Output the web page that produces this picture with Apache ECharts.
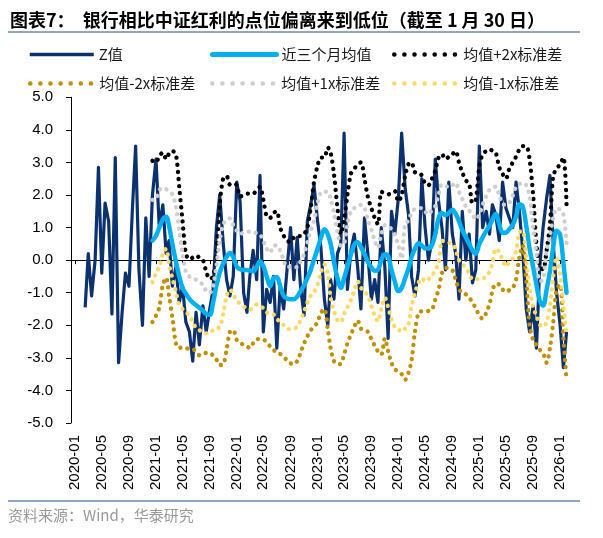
<!DOCTYPE html>
<html><head><meta charset="utf-8">
<script src="https://cdn.jsdelivr.net/npm/echarts@6/dist/echarts.min.js"></script>
<style>html,body{margin:0;padding:0;background:#fff}#c{width:603px;height:538px}</style>
</head><body><div id="c"></div>
<script>
// ---------- data ----------
const tickLabels = ["2020-01","2020-05","2020-09","2021-01","2021-05","2021-09","2022-01","2022-05","2022-09",
  "2023-01","2023-05","2023-09","2024-01","2024-05","2024-09","2025-01","2025-05","2025-09","2026-01"];

// semi-monthly observations (1st / 16th of month), last point = 2026-01-30
const zStart = [2020, 2, 16];
const bandStart = [2020, 12, 16];
const lastDate = [2026, 1, 30];

const zValues = [
  -1.45, 0.2, -1.1, 0.0, 2.85, -0.4, 1.75, 1.2, -1.65, 3.15,
  -3.15, -1.6, -0.4, -0.8, 1.5, 3.5, -0.3, -2.0, 1.3, -0.5,
  2.0, 3.1, 1.0, 1.7, 0.2, 0.6, -0.8, -0.2, -1.3, -0.8,
  -1.9, -2.2, -3.1, -1.6, -2.6, -1.4, -2.2, -1.5, -0.9, 1.0,
  2.0, 0.5, -0.6, -1.1, -0.5, 2.4, 1.8, -1.0, -1.6, -0.5,
  0.3, -0.6, 2.6, -2.2, -0.9, -1.3, -0.5, -2.7, -0.8, -1.5,
  -0.3, 1.0, -0.6, 0.7, -0.8, -1.7, 1.2, 1.7, 2.3, 1.2,
  0.4, -1.2, -2.0, -0.6, -1.2, 0.2, 0.5, 3.9, -0.9, 0.3,
  0.8, -0.2, -1.5, 1.3, 0.2, -1.2, -0.6, -1.3, 1.0, -0.2,
  -2.4, 1.5, 0.8, 1.9, 3.9, 2.2, 1.4, -0.5, -1.1, -0.3,
  2.5, 1.0, 0.0, 0.6, 3.1, 1.8, 1.0, -0.3, 2.4, 0.8,
  0.2, -1.2, 1.5, 0.0, 0.8, -0.7, -0.3, 3.5, 1.0, 1.5,
  0.8, 1.7, 1.4, 0.6, 2.4, 1.6, 1.3, 1.0, 2.4, 1.5,
  0.3, -1.5, -2.2, -1.4, -2.7, -0.2, 1.0, 1.9, 2.6, 0.5,
  -1.0, -2.0, -3.3,
  -2.2
];

const avg3mValues = [
  0.6, 0.75, 1.0, 1.25, 1.33, 1.05, 0.5, -0.05, -0.5, -0.85,
  -1.03, -1.19, -1.3, -1.38, -1.46, -1.55, -1.65, -1.68, -1.3, -0.78,
  -0.38, -0.1, 0.1, 0.22, 0.1, -0.2, -0.28, -0.3, -0.3, -0.32,
  -0.34, -0.2, -0.03, -0.18, -0.5, -0.8, -0.55, -0.52, -0.8, -1.1,
  -1.18, -1.2, -1.2, -1.12, -0.95, -0.78, -0.55, -0.3, 0.02, 0.35,
  0.68, 0.95, 0.8, 0.5, -0.05, -0.55, -0.85, -0.55, -0.2, 0.18,
  0.48, 0.55, 0.4, 0.18, -0.05, -0.22, -0.33, -0.3, 0.0, 0.18,
  0.12, -0.3, -0.65, -0.95, -0.85, -0.55, -0.25, 0.1, 0.35, 0.52,
  0.45, 0.36, 0.36, 0.46, 0.8, 1.3, 1.45, 1.38, 1.45, 1.55,
  1.42, 1.2, 0.92, 0.7, 0.5, 0.3, 0.2, 0.5, 0.7, 0.9,
  1.05, 1.25, 1.42, 1.1, 0.84, 0.84, 0.95, 1.08, 1.35, 1.72,
  1.65, 1.05, 0.35, -0.2, -0.75, -1.25, -1.4, -0.9, -0.35, 0.4,
  0.9, 0.78, -0.1,
  -1.0
];

const plus2Values = [
  3.05, 3.0, 3.2, 3.3, 3.1, 3.27, 3.35, 3.25, 2.25, 1.2,
  0.2, 0.02, 0.08, 0.14, 0.08, 0.0, -0.35, -0.58, -0.5, 0.2,
  1.7, 2.52, 2.58, 2.32, 2.35, 2.3, 1.95, 2.0, 2.04, 2.04,
  2.04, 2.15, 2.25, 1.85, 1.35, 1.3, 1.45, 1.5, 1.0, 0.75,
  0.6, 0.55, 0.7, 0.74, 0.74, 0.8, 1.0, 1.6, 2.4, 2.9,
  3.15, 3.15, 3.46, 3.3, 2.65, 1.6, 0.8, 1.25, 2.0, 2.66,
  2.8, 2.95, 3.0, 2.5, 1.95, 1.6, 1.3, 1.1, 2.1, 2.05,
  2.02, 2.07, 2.12, 1.8, 2.0, 2.6, 2.95, 3.0, 2.7, 2.69,
  2.6, 2.35, 2.3, 2.5, 2.75, 3.15, 3.25, 3.1, 3.17, 3.25,
  3.35, 3.0, 2.7, 2.45, 2.35, 1.75, 1.85, 2.9, 3.25, 3.35,
  3.4, 3.36, 3.3, 2.85, 2.65, 2.5, 2.8, 3.0, 3.18, 3.4,
  3.5, 3.5, 3.1, 2.0, 0.5, -0.2, -0.28, 0.3, 1.1, 2.6,
  2.8, 2.95, 3.15,
  1.7
];

const minus2Values = [
  -1.9, -1.7, -1.45, -0.75, -0.54, -1.1, -1.75, -2.55, -2.7, -2.67,
  -2.7, -2.73, -2.73, -2.82, -2.92, -2.87, -2.85, -2.85, -2.93, -3.05,
  -3.22, -3.2, -2.75, -2.2, -2.15, -2.45, -2.54, -2.6, -2.65, -2.7,
  -2.55, -2.43, -2.42, -2.43, -2.52, -2.65, -2.75, -2.85, -2.88, -2.96,
  -3.08, -3.17, -3.2, -3.1, -2.85, -2.56, -2.34, -2.15, -2.05, -1.9,
  -1.62, -1.5, -2.1, -2.7, -3.1, -3.2, -3.18, -2.9, -2.55, -2.28,
  -2.05, -1.85, -2.1, -2.13, -2.2, -2.42, -2.62, -2.8, -2.9, -2.4,
  -2.8, -3.15, -3.35, -3.42, -3.5, -3.67, -3.45, -3.06, -2.2, -1.62,
  -1.57, -1.57, -1.56, -1.52, -1.21, -0.9, -0.4, -0.24, -0.25, -0.3,
  -0.6, -0.88, -1.02, -1.05, -1.15, -1.3, -1.48, -1.7, -1.8, -1.62,
  -1.35, -0.95, -0.72, -0.75, -0.9, -0.98, -0.92, -0.85, -0.6, 0.1,
  0.45, -0.6, -2.0, -2.45, -2.6, -2.75, -2.85, -3.15, -2.7, -1.9,
  -0.9, -0.75, -2.4,
  -3.68
];

const plus1Values = [
  1.85, 1.88, 2.15, 2.22, 2.18, 2.12, 2.02, 1.65, 0.9, 0.2,
  -0.35, -0.5, -0.55, -0.6, -0.68, -0.75, -0.95, -1.0, -0.8, -0.15,
  0.6, 1.1, 1.25, 1.28, 1.08, 0.9, 0.8, 0.85, 0.88, 0.87,
  0.86, 0.83, 0.79, 0.6, 0.35, 0.23, 0.45, 0.45, 0.3, 0.0,
  -0.22, -0.2, -0.2, -0.22, -0.05, 0.18, 0.55, 0.9, 1.2, 1.75,
  2.08, 2.1, 2.1, 1.88, 1.45, 0.85, 0.45, 0.5, 1.1, 1.5,
  1.6, 1.68, 1.7, 1.6, 1.25, 0.95, 0.6, 0.38, 0.8, 1.07,
  1.05, 0.95, 0.78, 0.45, 0.05, 1.15, 1.2, 1.48, 1.57, 1.6,
  1.6, 1.5, 1.4, 1.55, 1.66, 2.0, 2.33, 2.28, 2.24, 2.3,
  2.38, 2.1, 1.88, 1.65, 1.52, 1.4, 1.25, 1.4, 1.7, 1.95,
  2.17, 2.22, 2.26, 2.0, 1.72, 1.7, 1.75, 1.98, 2.25, 2.33,
  2.38, 2.3, 1.95, 1.0, 0.2, -0.65, -0.6, 0.3, 0.75, 1.3,
  1.6, 1.55, 1.4,
  0.5
];

const minus1Values = [
  -0.68, -0.4, -0.2, 0.2, 0.35, -0.15, -0.55, -0.97, -1.38, -1.5,
  -1.6, -1.7, -1.9, -2.08, -2.15, -2.2, -2.25, -2.25, -2.14, -2.1,
  -2.05, -1.65, -1.1, -0.9, -1.05, -1.25, -1.33, -1.42, -1.48, -1.52,
  -1.45, -1.36, -1.42, -1.47, -1.6, -1.67, -1.67, -1.8, -1.9, -2.0,
  -2.11, -2.12, -2.1, -2.05, -1.85, -1.58, -1.3, -1.1, -0.98, -0.75,
  -0.38, -0.13, -0.4, -1.15, -1.55, -1.85, -1.9, -1.65, -1.45, -1.22,
  -0.95, -0.65, -0.85, -0.95, -1.1, -1.4, -1.7, -1.88, -1.5, -1.15,
  -1.45, -1.8, -2.06, -2.12, -2.2, -2.1, -1.98, -1.4, -1.0, -0.7,
  -0.55, -0.65, -0.58, -0.49, -0.3, -0.1, 0.6, 0.55, 0.53, 0.52,
  0.32, 0.0, -0.1, -0.25, -0.4, -0.59, -0.59, -0.59, -0.58, -0.48,
  -0.36, -0.1, 0.35, 0.25, 0.0, -0.2, -0.05, 0.05, 0.3, 0.85,
  0.9, 0.0, -0.85, -1.45, -1.7, -1.98, -2.05, -1.9, -1.4, -0.5,
  0.1, -0.45, -1.4,
  -2.3
];

// ---------- helpers ----------
function ts(y, m, d) { return Date.UTC(y, m - 1, d); }
function buildData(start, values, last) {
  let y = start[0], m = start[1], d = start[2];
  const out = [];
  for (let i = 0; i < values.length - 1; i++) {
    out.push([ts(y, m, d), values[i]]);
    if (d === 1) { d = 16; } else { d = 1; m++; if (m > 12) { m = 1; y++; } }
  }
  out.push([ts(last[0], last[1], last[2]), values[values.length - 1]]);
  return out;
}
const tickTimes = tickLabels.map(s => ts(+s.slice(0, 4), +s.slice(5, 7), 1));
function tickFmt(v) {
  let best = 0, bd = Infinity;
  tickTimes.forEach((t, i) => { const d = Math.abs(t - v); if (d < bd) { bd = d; best = i; } });
  return tickLabels[best];
}

const axisFont = "'Liberation Sans', Arial, sans-serif";
const cjkFont = "'Noto Sans CJK SC', sans-serif";
const xMin = ts(2019, 12, 14), xMax = ts(2026, 2, 2);

const dot = (color) => ({ color: color, width: 4.3, type: [0.1, 7], cap: 'round' });

const seriesDefs = [
  { name: 'Z值', data: buildData(zStart, zValues, lastDate), lineStyle: { color: '#0B326E', width: 3.2, join: 'round' }, smooth: false,
    legendLine: { width: 3.5 } },
  { name: '近三个月均值', data: buildData(bandStart, avg3mValues, lastDate), lineStyle: { color: '#00B0F0', width: 4.5, cap: 'round', join: 'round' }, smooth: 0.35,
    legendLine: { width: 5 } },
  { name: '均值+2x标准差', data: buildData(bandStart, plus2Values, lastDate), lineStyle: dot('#000000'), smooth: 0.3,
    legendLine: { width: 4.5, type: [0.1, 10], cap: 'round' } },
  { name: '均值-2x标准差', data: buildData(bandStart, minus2Values, lastDate), lineStyle: dot('#BF9000'), smooth: 0.3,
    legendLine: { width: 4.5, type: [0.1, 10], cap: 'round' } },
  { name: '均值+1x标准差', data: buildData(bandStart, plus1Values, lastDate), lineStyle: dot('#CFCFCF'), smooth: 0.3,
    legendLine: { width: 4.5, type: [0.1, 10], cap: 'round' } },
  { name: '均值-1x标准差', data: buildData(bandStart, minus1Values, lastDate), lineStyle: dot('#FFD966'), smooth: 0.3,
    legendLine: { width: 4.5, type: [0.1, 10], cap: 'round' } }
];

const legendPos = [[28, 47], [210, 47], [392, 47], [28, 76], [210, 76], [392, 76]];

const chart = echarts.init(document.getElementById('c'), null, { renderer: 'canvas' });
chart.setOption({
  backgroundColor: '#ffffff',
  animation: false,
  grid: { left: 71, right: 35.8, top: 97.3, bottom: 115, outerBoundsMode: 'none' },
  legend: seriesDefs.map((s, i) => ({
    data: [s.name], left: legendPos[i][0], top: legendPos[i][1], padding: 0, itemGap: 0,
    itemWidth: 64, itemHeight: 14, selectedMode: false,
    itemStyle: { opacity: 0, borderWidth: 0 },
    lineStyle: Object.assign({ color: s.lineStyle.color }, s.legendLine),
    textStyle: { fontSize: 15, color: '#1a1a1a', fontFamily: cjkFont }
  })),
  xAxis: [
    {
      type: 'value', min: xMin, max: xMax, position: 'bottom',
      axisLine: { show: false, onZero: false },
      axisTick: { show: false },
      splitLine: { show: false },
      axisLabel: {
        customValues: tickTimes, rotate: 90, margin: 12, formatter: tickFmt,
        fontSize: 15, color: '#000', fontFamily: axisFont, hideOverlap: false,
        showMinLabel: true, showMaxLabel: true
      }
    },
    {
      type: 'value', min: xMin, max: xMax, position: 'bottom',
      axisLine: { show: true, onZero: true, lineStyle: { color: '#000', width: 1 } },
      axisTick: { show: true, customValues: tickTimes, length: 4, lineStyle: { color: '#000' } },
      axisLabel: { show: false },
      splitLine: { show: false }
    }
  ],
  yAxis: {
    type: 'value', min: -5, max: 5, interval: 1,
    axisLine: { show: true, lineStyle: { color: '#000', width: 1 } },
    axisTick: { show: true, length: 5, lineStyle: { color: '#000' } },
    splitLine: { show: false },
    axisLabel: { formatter: v => v.toFixed(1), fontSize: 15, color: '#000', fontFamily: axisFont, margin: 18 }
  },
  series: seriesDefs.map(s => ({
    name: s.name, type: 'line', xAxisIndex: 0, data: s.data,
    symbol: 'none', showSymbol: false, smooth: s.smooth,
    lineStyle: s.lineStyle, itemStyle: { color: s.lineStyle.color },
    emphasis: { disabled: true }
  })),
  graphic: [
    { type: 'text', x: 10, y: 20, style: { text: '图表7：  银行相比中证红利的点位偏离来到低位（截至 1 月 30 日）', font: 'bold 18px ' + cjkFont, fill: '#000', verticalAlign: 'middle' } },
    { type: 'line', shape: { x1: 8, y1: 32, x2: 580, y2: 32 }, style: { stroke: '#8EA8C3', lineWidth: 2 } },
    { type: 'line', shape: { x1: 8, y1: 501, x2: 580, y2: 501 }, style: { stroke: '#8EA8C3', lineWidth: 2 } },
    { type: 'text', x: 8, y: 515, style: { text: '资料来源：Wind，华泰研究', font: '15px ' + cjkFont, fill: '#9A9A9A', verticalAlign: 'middle' } }
  ]
});
</script>
</body></html>
